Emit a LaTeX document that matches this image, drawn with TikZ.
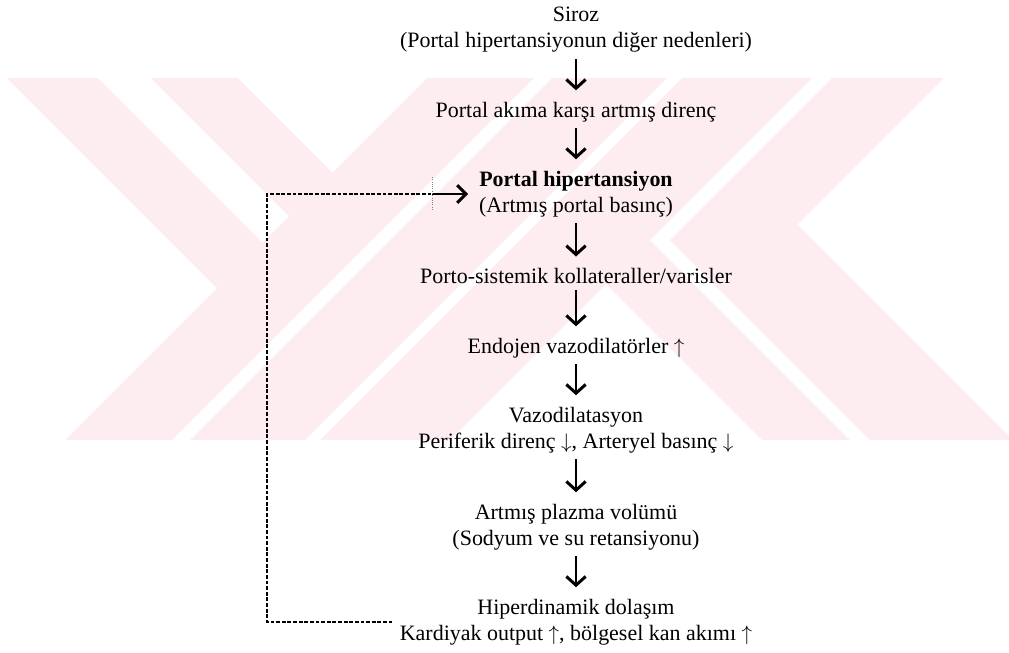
\documentclass[tikz,border=0pt]{standalone}
\usepackage{fontspec}
\setmainfont{Liberation Serif}
\usetikzlibrary{arrows.meta}

\definecolor{wmpink}{RGB}{253,237,240}

\tikzset{
    lbl/.style={align=center, inner sep=0pt, font=\fontsize{12.5}{14.8}\selectfont},
    arr/.style={line width=1.7pt, -{Straight Barb[length=5pt,width=11pt]},
        shorten <=3.5pt, shorten >=6.5pt},
    fbarr/.style={line width=1.7pt, -{Straight Barb[length=5pt,width=10pt]}, shorten >=6pt},
    fb/.style={line width=0.8pt, dash pattern=on 2.2pt off 1pt},
}

\begin{document}
\begin{tikzpicture}[x=0.02cm,y=-0.02cm]
        \useasboundingbox (0,0) rectangle (1009,653);
        % watermark
        \fill[wmpink] (7,78) -- (98,78) -- (262.5,242.5) -- (217,288) -- cycle;
        \fill[wmpink] (151,78) -- (238,78) -- (332.5,172.5) -- (289,216) -- cycle;
        \foreach \l/\r in {505/612,630/745,760/890}
            \fill[wmpink] (\l-78,78) -- (\r-78,78) -- (\r-440,440) -- (\l-440,440) -- cycle;
        \fill[wmpink] (832,78) -- (944,78) -- (797.5,224.5) -- (1013,440) -- (870,440) -- (670,240) -- cycle;
        \fill[wmpink] (606,284) -- (650,240) -- (850,440) -- (762,440) -- cycle;

        % steps
        \node[lbl] (siroz) at (576,30) {Siroz\\(Portal hipertansiyonun diğer nedenleri)};
        \node[lbl] (direnc) at (576,112) {Portal akıma karşı artmış direnç};
        \node[lbl] (portal) at (576,194) {\textbf{Portal hipertansiyon}\\(Artmış portal basınç)};
        \node[lbl] (kollat) at (576,276) {Porto-sistemik kollateraller/varisler};
        \node[lbl] (endo) at (576,348) {Endojen vazodilatörler $\uparrow$};
        \node[lbl] (vazo) at (576,430) {Vazodilatasyon\\Periferik direnç $\downarrow$, Arteryel basınç $\downarrow$};
        \node[lbl] (plazma) at (576,527) {Artmış plazma volümü\\(Sodyum ve su retansiyonu)};
        \node[lbl] (hiper) at (576,622) {Hiperdinamik dolaşım\\Kardiyak output $\uparrow$, bölgesel kan akımı $\uparrow$};

        \foreach \a/\b in {siroz/direnc,direnc/portal,portal/kollat,kollat/endo,endo/vazo,vazo/plazma,plazma/hiper}
            \draw[arr] (\a) -- (\b);

        % feedback loop
        \coordinate (loopx) at (267,0);
        \coordinate (headx) at (432,0);
        \draw[fb] ([xshift=-4pt]hiper.west) -- (hiper.west -| loopx) -- (portal.west -| loopx) -- (portal.west -| headx);
        \draw[fbarr] (portal.west -| headx) -- (portal.west);
        \draw[gray,densely dotted,line width=0.3pt] (432,177) -- (432,210);
\end{tikzpicture}
\end{document}
